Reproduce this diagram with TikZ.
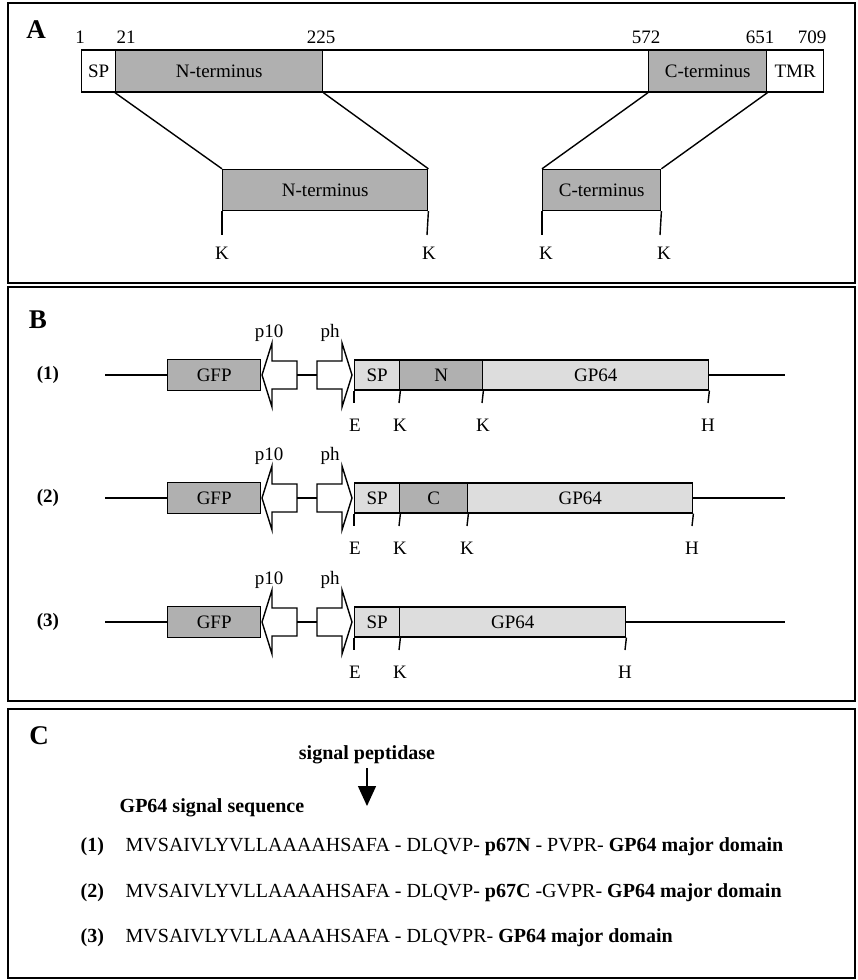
\documentclass[tikz,border=0pt]{standalone}
\usepackage{fontspec}
\setmainfont{Liberation Serif}
\usetikzlibrary{arrows.meta}
\definecolor{darkfill}{RGB}{176,176,176}
\definecolor{lightfill}{RGB}{221,221,221}

\begin{document}
\begin{tikzpicture}[x=1pt,y=-1pt,line width=1.4pt,
  every node/.style={font=\fontsize{19}{22}\selectfont},
  frame/.style={draw,line width=2.2pt},
  panel/.style={font=\fontsize{27}{30}\selectfont\bfseries},
  seg/.style={draw,line width=1.4pt,inner sep=0pt,anchor=west},
  bseg/.style={seg,minimum height=30pt},
  prom/.style={draw,fill=white,line width=1.4pt,line join=miter},
  txt/.style={anchor=west,inner sep=0pt,font=\fontsize{20}{24}\selectfont}]
  \useasboundingbox (0,0) rectangle (858,980);
  % panel frames
  \draw[frame] (8,3) rectangle (855,283);
  \draw[frame] (8,287) rectangle (855,701);
  \draw[frame] (8,709) rectangle (855,978);

  % A: full protein and the cut fragments
  \node[panel] (labA) at (36,30) {A};
  \node (n1) at (80,37) {1};
  \node (n21) at (126,37) {21};
  \node (n225) at (321,37) {225};
  \node (n572) at (646,37) {572};
  \node (n651) at (760,37) {651};
  \node (n709) at (812,37) {709};
  \node[seg,minimum width=34pt,minimum height=42pt] (sp) at (81,71) {SP};
  \node[seg,fill=darkfill,minimum width=207pt,minimum height=42pt] (nterm) at (115,71) {N-terminus};
  \node[seg,minimum width=326pt,minimum height=42pt] (mid) at (322,71) {};
  \node[seg,fill=darkfill,minimum width=118pt,minimum height=42pt] (cterm) at (648,71) {C-terminus};
  \node[seg,minimum width=57pt,minimum height=42pt] (tmr) at (766,71) {TMR};
  \node[seg,fill=darkfill,minimum width=205pt,minimum height=41pt] (nlow) at (222,190) {N-terminus};
  \node[seg,fill=darkfill,minimum width=118pt,minimum height=41pt] (clow) at (542,190) {C-terminus};
  \draw (nterm.south west) -- (nlow.north west);
  \draw (nterm.south east) -- (nlow.north east);
  \draw (cterm.south west) -- (clow.north west);
  \draw (cterm.south east) -- (clow.north east);
  \coordinate (ka) at (222,235);
  \coordinate (kb) at (427,235);
  \coordinate (kc) at (542,235);
  \coordinate (kd) at (660,235);
  \draw (nlow.south west) -- (ka);
  \draw (nlow.south east) -- (kb);
  \draw (clow.south west) -- (kc);
  \draw (clow.south east) -- (kd);
  \node (kalab) at (222,253) {K};
  \node (kblab) at (429,253) {K};
  \node (kclab) at (546,253) {K};
  \node (kdlab) at (664,253) {K};

  % B: the three constructs
  \node[panel] (labB) at (38,320) {B};
  \foreach \r/\Y in {1/375,2/498,3/622}{
    \node[font=\fontsize{19}{22}\selectfont\bfseries] (row\r) at (48,\Y) {(\r)};
    \coordinate (lft\r) at (105,\Y);
    \node[seg,fill=darkfill,minimum width=93pt,minimum height=31pt] (gfp\r) at (167,\Y) {GFP};
    \draw (lft\r) -- (gfp\r);
    \draw[prom] (262,\Y) -- (272,\Y-32) -- (272,\Y-14) -- (297,\Y-14) -- (297,\Y+14)
      -- (272,\Y+14) -- (272,\Y+32) -- cycle;
    \draw[prom] (352,\Y) -- (342,\Y-32) -- (342,\Y-14) -- (317,\Y-14) -- (317,\Y+14)
      -- (342,\Y+14) -- (342,\Y+32) -- cycle;
    \coordinate (p10r\r) at (297,\Y);
    \coordinate (phl\r) at (317,\Y);
    \draw (p10r\r) -- (phl\r);
    \node (p10lab\r) at (269,\Y-42) {p10};
    \node (phlab\r) at (330,\Y-42) {ph};
    \node[bseg,fill=lightfill,minimum width=45pt] (sp\r) at (354,\Y) {SP};
    \coordinate (te\r) at (354,\Y+28);
    \coordinate (tk\r) at (399,\Y+28);
    \draw (sp\r.south west) -- (te\r);
    \draw (sp\r.south east) -- (tk\r);
    \node (elab\r) at (355,\Y+50) {E};
    \node (klab\r) at (400,\Y+50) {K};
    \coordinate (rgt\r) at (785,\Y);
  }
  % (1) N fragment
  \node[bseg,fill=darkfill,minimum width=83pt] (nf1) at (399,375) {N};
  \node[bseg,fill=lightfill,minimum width=226pt] (gp1) at (482,375) {GP64};
  % (2) C fragment
  \node[bseg,fill=darkfill,minimum width=68pt] (cf2) at (399,498) {C};
  \node[bseg,fill=lightfill,minimum width=225pt] (gp2) at (467,498) {GP64};
  % (3) no insert
  \node[bseg,fill=lightfill,minimum width=226pt] (gp3) at (399,622) {GP64};
  \draw (gp1.east) -- (rgt1);
  \draw (gp2.east) -- (rgt2);
  \draw (gp3.east) -- (rgt3);
  \coordinate (tk1b) at (482,403);
  \coordinate (th1) at (708,403);
  \coordinate (tk2b) at (467,526);
  \coordinate (th2) at (692,526);
  \coordinate (th3) at (625,650);
  \draw (nf1.south east) -- (tk1b);
  \draw (gp1.south east) -- (th1);
  \draw (cf2.south east) -- (tk2b);
  \draw (gp2.south east) -- (th2);
  \draw (gp3.south east) -- (th3);
  \node (k1blab) at (483,425) {K};
  \node (h1lab) at (708,425) {H};
  \node (k2blab) at (467,548) {K};
  \node (h2lab) at (692,548) {H};
  \node (h3lab) at (625,672) {H};

  % C: signal sequence and cleavage site
  \node[panel] (labC) at (39,736) {C};
  \node[font=\fontsize{20}{24}\selectfont\bfseries] (sigpep) at (367,755) {signal peptidase};
  \coordinate (cut) at (367,806);
  \draw[-{Triangle[length=20pt,width=18pt]}] (sigpep) -- (cut);
  \node[txt,font=\fontsize{20}{24}\selectfont\bfseries] (sigseq) at (119,808) {GP64 signal sequence};
  \node[txt,font=\fontsize{20}{24}\selectfont\bfseries] (seq1lab) at (80,847) {(1)};
  \node[txt,font=\fontsize{20}{24}\selectfont\bfseries] (seq2lab) at (80,893) {(2)};
  \node[txt,font=\fontsize{20}{24}\selectfont\bfseries] (seq3lab) at (80,938) {(3)};
  \node[txt] (seq1) at (125,847) {MVSAIVLYVLLAAAAHSAFA - DLQVP- \textbf{p67N} - PVPR- \textbf{GP64 major domain}};
  \node[txt] (seq2) at (125,893) {MVSAIVLYVLLAAAAHSAFA - DLQVP- \textbf{p67C} -GVPR- \textbf{GP64 major domain}};
  \node[txt] (seq3) at (125,938) {MVSAIVLYVLLAAAAHSAFA - DLQVPR- \textbf{GP64 major domain}};
\end{tikzpicture}
\end{document}
